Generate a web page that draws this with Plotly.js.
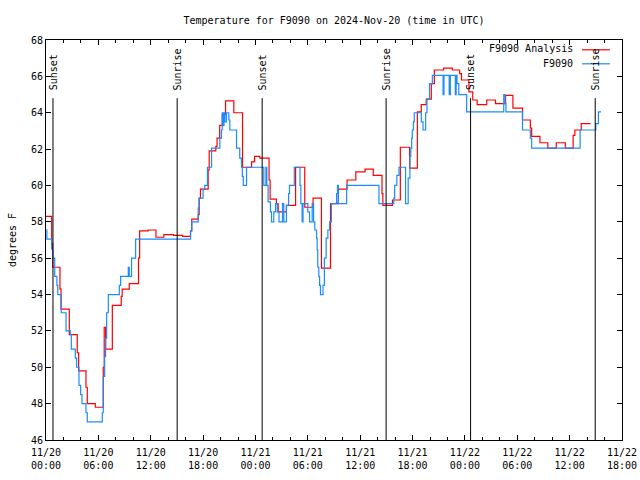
<!DOCTYPE html>
<html>
<head>
<meta charset="utf-8">
<script src="https://cdn.plot.ly/plotly-3.0.1.min.js"></script>
<style>html,body{margin:0;padding:0;background:#fff;}#chart{width:640px;height:480px;}</style>
</head>
<body>
<div id="chart"></div>
<script>
// Hours since 2024-11-20 00:00 UTC and temperature (degrees F)
const redHours = [0, 0.65, 0.77, 1.6, 1.72, 2.67, 3.58, 3.74, 4.58, 4.73, 5.65, 6.56, 6.67, 6.83, 7.6, 8.62, 8.73, 9.54, 10.6, 10.73, 11.7, 12.6, 13.5, 14.6, 15.65, 16.56, 16.7, 17.44, 17.55, 17.7, 18.58, 18.7, 19.46, 19.6, 19.9, 20.2, 20.57, 21.52, 22.52, 23.55, 23.9, 24.5, 25.56, 25.68, 26.4, 26.6, 27.55, 28.6, 29.65, 30.6, 31.56, 32.6, 33.5, 34.5, 35.5, 36.56, 37.5, 38.5, 38.6, 39.7, 40.6, 41.67, 42.55, 43.0, 43.57, 44.15, 44.5, 45.56, 46.55, 47.4, 47.6, 48.46, 48.9, 49.4, 50.5, 51.5, 52.66, 53.5, 54.6, 55.5, 55.65, 56.6, 57.5, 58.47, 59.5, 60.4, 60.6, 61.33, 62.4];
const redTemps = [58.3, 56.8, 55.5, 54.3, 53.2, 51.8, 50.8, 49.8, 48.9, 48.0, 47.8, 50.0, 52.2, 51.0, 53.4, 53.9, 54.3, 54.6, 56.0, 57.5, 57.55, 57.15, 57.3, 57.25, 57.2, 57.5, 58.15, 58.4, 59.3, 59.8, 60.85, 61.9, 62.15, 62.6, 63.3, 63.9, 64.65, 64.0, 61.0, 61.3, 61.6, 61.5, 60.3, 59.25, 59.0, 58.55, 58.9, 61.0, 58.8, 59.3, 55.45, 59.0, 59.8, 60.3, 60.75, 60.9, 60.55, 59.55, 58.9, 59.2, 62.1, 60.95, 64.05, 64.45, 64.75, 65.6, 66.35, 66.45, 66.35, 66.15, 65.8, 65.15, 64.7, 64.45, 64.7, 64.5, 64.95, 64.25, 63.6, 63.15, 62.7, 62.35, 62.05, 62.35, 62.05, 62.75, 63.05, 63.4, 63.4];

const blueHours = [0, 0.1, 0.65, 0.75, 1.0, 1.25, 1.35, 1.75, 2.3, 2.79, 2.9, 3.36, 3.51, 3.78, 3.97, 4.12, 4.58, 4.73, 6.45, 6.56, 6.72, 6.83, 6.95, 7.14, 8.4, 8.55, 9.43, 9.54, 9.8, 10.27, 16.56, 16.7, 17.44, 17.55, 18.0, 18.2, 18.5, 18.97, 19.92, 20.1, 20.2, 20.3, 20.4, 20.5, 20.68, 20.95, 21.07, 21.83, 22.2, 22.4, 22.5, 22.6, 22.98, 24.96, 25.2, 25.3, 25.45, 25.72, 25.84, 26.1, 26.3, 26.5, 26.7, 27.1, 27.25, 27.55, 27.8, 27.9, 28.45, 29.1, 29.2, 29.35, 29.45, 30.0, 30.2, 30.5, 30.66, 30.8, 31.0, 31.07, 31.14, 31.26, 31.35, 31.45, 31.74, 31.9, 32.1, 32.3, 32.5, 32.7, 33.3, 33.4, 33.5, 34.45, 38.15, 39.85, 39.95, 40.2, 40.45, 41.2, 41.5, 41.7, 41.8, 41.9, 41.97, 42.1, 42.2, 43.0, 43.2, 43.5, 43.65, 43.95, 44.27, 45.5, 45.6, 46.2, 46.33, 46.9, 47.0, 47.1, 47.3, 48.2, 52.45, 52.6, 52.7, 54.6, 55.5, 55.65, 61.2, 63.0, 63.3, 63.6];
const blueTemps = [57.55, 57.05, 56.5, 56.0, 55.0, 54.5, 54.0, 53.0, 52.0, 51.8, 51.0, 50.5, 50.0, 49.0, 48.5, 48.0, 47.5, 47.0, 47.5, 49.5, 50.6, 51.6, 53.0, 54.0, 54.5, 55.0, 55.5, 55.0, 56.0, 57.05, 57.5, 58.0, 58.75, 59.3, 59.8, 60.0, 61.0, 62.05, 62.6, 63.05, 64.0, 63.3, 64.0, 63.5, 64.0, 63.6, 63.05, 62.05, 61.5, 61.0, 60.5, 60.0, 61.0, 60.0, 61.0, 60.0, 59.1, 58.55, 58.0, 58.55, 59.0, 58.55, 58.0, 59.0, 58.0, 58.9, 59.55, 60.0, 61.0, 60.0, 59.0, 58.0, 59.0, 58.55, 58.0, 59.0, 58.0, 57.55, 57.1, 56.45, 55.5, 55.0, 54.5, 54.0, 54.5, 56.0, 57.1, 57.55, 58.0, 59.0, 59.55, 60.0, 59.0, 60.0, 59.0, 59.3, 60.0, 60.55, 61.0, 59.0, 60.4, 61.6, 62.05, 62.6, 63.05, 63.5, 64.0, 63.5, 63.05, 64.0, 64.75, 65.6, 66.05, 65.0, 66.05, 65.0, 66.05, 65.0, 66.05, 65.6, 65.0, 64.05, 65.0, 64.5, 64.05, 63.05, 62.6, 62.05, 63.05, 63.4, 64.05, 64.05];

const sunHours = [0.8, 15.03, 24.77, 38.97, 48.65, 62.93];
const sunLabels = ['Sunset', 'Sunrise', 'Sunset', 'Sunrise', 'Sunset', 'Sunrise'];

const seriesNames = ['F9090 Analysis', 'F9090'];
const seriesColors = ['#ff0000', '#1a8cff'];

const base = Date.UTC(2024, 10, 20, 0, 0, 0);
const HOUR = 3600000;
const toT = h => base + h * HOUR;

const FONT = 'DejaVu Sans Mono, monospace';

const traces = [
  {x: redHours.map(toT), y: redTemps, mode: 'lines', line: {shape: 'hv', color: seriesColors[0], width: 1.2}, name: seriesNames[0], hoverinfo: 'skip'},
  {x: blueHours.map(toT), y: blueTemps, mode: 'lines', line: {shape: 'hv', color: seriesColors[1], width: 1.2}, name: seriesNames[1], hoverinfo: 'skip'}
];

const shapes = [];
const annotations = [];
sunHours.forEach((h, i) => {
  shapes.push({type: 'line', xref: 'x', yref: 'y', x0: toT(h), x1: toT(h), y0: 46, y1: 64.8, line: {color: 'black', width: 1}});
  annotations.push({xref: 'x', yref: 'y', x: toT(h), y: 65.12, text: sunLabels[i], textangle: -90, showarrow: false, xanchor: 'center', yanchor: 'bottom', font: {family: FONT, size: 10, color: 'black'}});
});

// manual legend (text then line sample, gnuplot style)
const legY = [0.9775, 0.9425];
seriesNames.forEach((n, i) => {
  annotations.push({xref: 'paper', yref: 'paper', x: 0.9185, y: legY[i], text: n, showarrow: false, xanchor: 'right', yanchor: 'middle', font: {family: FONT, size: 10, color: 'black'}});
  shapes.push({type: 'line', xref: 'paper', yref: 'paper', x0: 0.9306, x1: 0.979, y0: legY[i] - 0.002, y1: legY[i] - 0.002, line: {color: seriesColors[i], width: 1.2}});
});

const layout = {
  width: 640, height: 480,
  margin: {l: 46, r: 18, t: 40, b: 40},
  paper_bgcolor: 'white', plot_bgcolor: 'white',
  font: {family: FONT, size: 10, color: 'black'},
  showlegend: false,
  title: {text: 'Temperature for F9090 on 2024-Nov-20 (time in UTC)', font: {family: FONT, size: 10, color: 'black'}, xref: 'paper', x: 0.5, xanchor: 'center', yref: 'container', y: 0.958, yanchor: 'middle'},
  xaxis: {
    type: 'date', range: [base, toT(66)], autorange: false,
    tick0: base, dtick: 6 * HOUR, tickformat: '%m/%d<br>%H:%M',
    ticks: 'inside', ticklen: 5, tickcolor: 'black', tickwidth: 1, ticklabelstandoff: 3,
    minor: {dtick: 2 * HOUR, tick0: base, ticks: 'inside', ticklen: 3, tickcolor: 'black', showgrid: false},
    showline: true, linecolor: 'black', linewidth: 1, mirror: 'ticks',
    showgrid: false, zeroline: false, fixedrange: true,
    tickfont: {family: FONT, size: 10, color: 'black'}
  },
  yaxis: {
    range: [46, 68], autorange: false, dtick: 2, tick0: 46,
    ticks: 'inside', ticklen: 5, tickcolor: 'black', tickwidth: 1,
    showline: true, linecolor: 'black', linewidth: 1, mirror: 'ticks',
    showgrid: false, zeroline: false, fixedrange: true,
    tickfont: {family: FONT, size: 10, color: 'black'},
    title: {text: 'degrees F', font: {family: FONT, size: 10, color: 'black'}, standoff: 12}
  },
  shapes: shapes,
  annotations: annotations
};

Plotly.newPlot('chart', traces, layout, {staticPlot: true, displayModeBar: false});
</script>
</body>
</html>
